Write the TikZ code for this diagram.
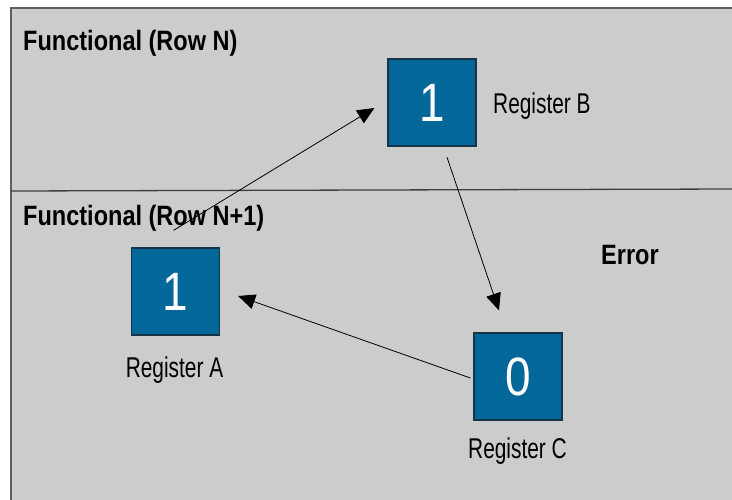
\documentclass[tikz,border=0pt]{standalone}
\usepackage{fontspec}
\setmainfont{Liberation Sans}
\newfontfamily\regf{Liberation Sans}[FakeStretch=0.73]
\newfontfamily\boldf{Liberation Sans}[FakeStretch=0.84]
\newfontfamily\digf{Liberation Sans}[FakeStretch=0.85]
\usetikzlibrary{arrows.meta}
\definecolor{bg}{RGB}{204,204,204}
\definecolor{regblue}{RGB}{4,103,153}
\definecolor{regedge}{RGB}{22,52,72}
\definecolor{framec}{RGB}{95,95,95}
\begin{document}
\begin{tikzpicture}[x=1pt,y=-1pt,
  reg/.style={draw=regedge, line width=1.2pt, fill=regblue, minimum width=88pt, minimum height=87pt, inner sep=0pt, text=white, font=\digf\fontsize{54}{56}\selectfont},
  lab/.style={inner sep=0pt, font=\regf\fontsize{28.6}{30}\selectfont},
  ttl/.style={inner sep=0pt, anchor=base west, font=\boldf\bfseries\fontsize{28}{30}\selectfont},
  arr/.style={-{Triangle[length=17pt,width=15pt]}, line width=0.8pt, black}]
\useasboundingbox (0,0) rectangle (732,499);
% background panel
\fill[bg] (11,8) rectangle (733,500);
\draw[framec, line width=2pt] (11,500) -- (11,8) -- (733,8);
\draw[black!75, line width=1.3pt] (11,191) -- (733,189);
% titles
\node[ttl] (t1) at (23,50) {Functional (Row N)};
\node[ttl] (t2) at (23,225) {Functional (Row N+1)};
\node[ttl] (err) at (601,264) {Error};
% registers
\node[reg] (B) at (432,102.5) {1};
\node[reg] (A) at (175.5,291.5) {1};
\node[reg] (C) at (518,376.5) {0};
% labels
\node[lab, anchor=base west] (lB) at (493,113) {Register B};
\node[lab, anchor=base] (lA) at (174.5,377) {Register A};
\node[lab, anchor=base] (lC) at (517.5,458) {Register C};
% connectors
\draw[arr] ([shift={(-2,-17)}]A.north) -- ([shift={(-13,5.5)}]B.west);
\draw[arr] ([shift={(15,10.7)}]B.south) -- ([shift={(-19,-22)}]C.north);
\draw[arr] ([shift={(-3,1.5)}]C.west) -- ([shift={(18,4.5)}]A.east);
\end{tikzpicture}
\end{document}
